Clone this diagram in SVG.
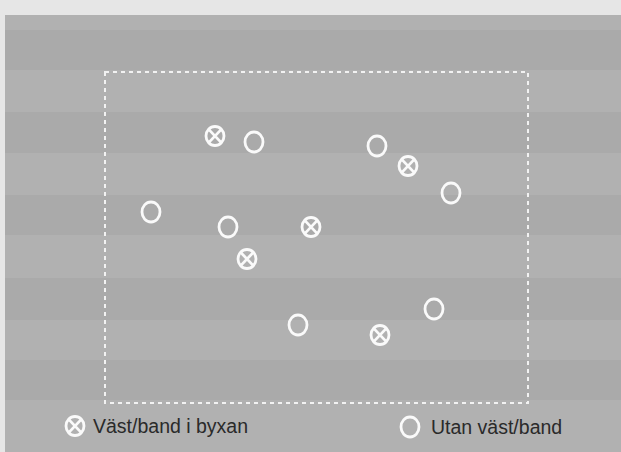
<svg xmlns="http://www.w3.org/2000/svg" width="621" height="452" viewBox="0 0 621 452">
<defs>
<style>
.c{fill:none;stroke:#fafafa;stroke-width:2.8}
.lbl{font-family:"Liberation Sans",Arial,sans-serif;font-size:19.5px;fill:#2a2a2a}
.d{fill:#aaaaaa}
</style>
<g id="cross">
<ellipse class="c" cx="0" cy="0" rx="9" ry="9.5"/>
<path class="c" d="M-6.3,-6.6 L6.3,6.6 M6.3,-6.6 L-6.3,6.6"/>
</g>
<g id="ring">
<ellipse class="c" cx="0" cy="0" rx="9" ry="10"/>
</g>
</defs>
<rect width="621" height="452" fill="#b1b1b1"/>
<rect x="0" y="0" width="621" height="15" fill="#e6e6e6"/>
<rect x="0" y="0" width="5" height="452" fill="#e6e6e6"/>
<g id="stripes">
<rect class="d" x="5" y="30" width="616" height="40"/>
<rect class="d" x="5" y="112" width="616" height="41"/>
<rect class="d" x="5" y="195" width="616" height="40"/>
<rect class="d" x="5" y="278" width="616" height="42"/>
<rect class="d" x="5" y="360" width="616" height="40"/>
</g>
<rect id="field" x="105" y="72" width="423" height="331" fill="none" stroke="#f2f2f2" stroke-width="2" stroke-dasharray="4,4"/>
<g id="players">
<use id="p1" href="#cross" x="215" y="136"/>
<use id="p2" href="#ring" x="254" y="142"/>
<use id="p3" href="#ring" x="377" y="146"/>
<use id="p4" href="#cross" x="408" y="166"/>
<use id="p5" href="#ring" x="451" y="193"/>
<use id="p6" href="#ring" x="151" y="212"/>
<use id="p7" href="#ring" x="228" y="227"/>
<use id="p8" href="#cross" x="311" y="227"/>
<use id="p9" href="#cross" x="247" y="259"/>
<use id="p10" href="#ring" x="298" y="325"/>
<use id="p11" href="#cross" x="380" y="335"/>
<use id="p12" href="#ring" x="434" y="309"/>
</g>
<g id="legend">
<use href="#cross" x="75" y="426"/>
<text class="lbl" x="93" y="433">Väst/band i byxan</text>
<use href="#ring" x="410" y="427"/>
<text class="lbl" x="431" y="434">Utan väst/band</text>
</g>
</svg>
